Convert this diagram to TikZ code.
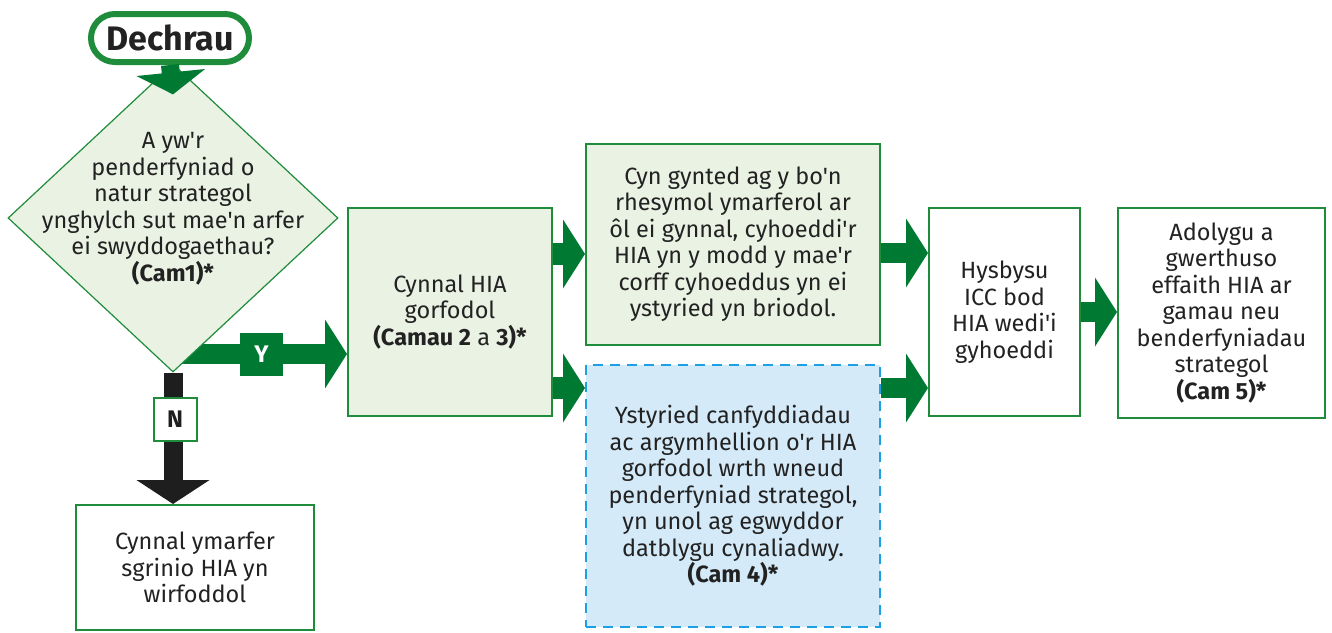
\documentclass[tikz,border=0pt]{standalone}
\usepackage{fontspec}
\setmainfont{Fira Sans}[Ligatures=TeXOff]
\usetikzlibrary{arrows.meta,shapes.geometric,calc}
\definecolor{gdark}{HTML}{007A33}
\definecolor{gline}{HTML}{1E8C3A}
\definecolor{gfill}{HTML}{EAF2E3}
\definecolor{bfill}{HTML}{D5EAF8}
\definecolor{bline}{HTML}{1BA0E2}
\definecolor{kdark}{HTML}{1E1E1E}
\definecolor{txt}{HTML}{222222}
\pgfdeclarelayer{bg}
\pgfsetlayers{bg,main}
\tikzset{
  base/.style={draw=gline, line width=2pt, text=txt, align=center, inner sep=0pt,
    font=\fontsize{23.5}{26.5}\selectfont},
  gbox/.style={base, fill=gfill},
  wbox/.style={base, fill=white},
  dbox/.style={base, fill=bfill, draw=bline, dash pattern=on 10pt off 7pt},
  garrow/.style={draw=gdark, line width=20pt, -{Triangle[length=22pt 0 0,width=68pt 0 0]}},
  karrow/.style={draw=kdark, line width=19pt, -{Triangle[length=24pt 0 0,width=72pt 0 0]}},
  lab/.style={inner sep=0pt, minimum width=43pt, minimum height=43pt, font=\fontsize{24}{24}\selectfont\bfseries},
}
\begin{document}
\begin{tikzpicture}[x=1pt,y=-1pt]
\useasboundingbox (0,0) rectangle (1332,632);
% nodes
\node[draw=gline, line width=6pt, fill=white, rounded corners=24pt, minimum width=158pt, minimum height=48pt,
  font=\fontsize{34}{34}\selectfont\bfseries, text=txt] (start) at (170,38) {Dechrau};
\node[diamond, draw=gline, line width=1.2pt, fill=gfill, minimum width=330pt, minimum height=308pt, inner sep=0pt] (dia) at (173,218) {};
\node[text=txt, align=center, font=\fontsize{23.5}{26.5}\selectfont] (diat) at (173,209)
  {A yw'r\\penderfyniad o\\natur strategol\\ynghylch sut mae'n arfer\\ei swyddogaethau?\\\textbf{(Cam1)*}};
\node[gbox, minimum width=204pt, minimum height=208pt] (b2) at (450,312)
  {Cynnal HIA\\gorfodol\\\textbf{(Camau 2} a \textbf{3)*}};
\node[gbox, minimum width=294pt, minimum height=201pt] (b4) at (733,244)
  {Cyn gynted ag y bo'n\\rhesymol ymarferol ar\\ôl ei gynnal, cyhoeddi'r\\HIA yn y modd y mae'r\\corff cyhoeddus yn ei\\ystyried yn briodol.};
\node[dbox, minimum width=294pt, minimum height=262pt] (b5) at (733,496)
  {Ystyried canfyddiadau\\ac argymhellion o'r HIA\\gorfodol wrth wneud\\penderfyniad strategol,\\yn unol ag egwyddor\\datblygu cynaliadwy.\\\textbf{(Cam 4)*}};
\node[wbox, minimum width=151pt, minimum height=208pt] (b6) at (1004.5,312)
  {Hysbysu\\ICC bod\\HIA wedi'i\\gyhoeddi};
\node[wbox, minimum width=207pt, minimum height=210pt] (b7) at (1221.5,313)
  {Adolygu a\\gwerthuso\\effaith HIA ar\\gamau neu\\benderfyniadau\\strategol\\\textbf{(Cam 5)*}};
\node[wbox, minimum width=238pt, minimum height=125pt] (b3) at (195,567.5)
  {Cynnal ymarfer\\sgrinio HIA yn\\wirfoddol};
% connectors behind
\begin{pgfonlayer}{bg}
\draw[garrow] (dia.south |- 0,354) -- (b2.west |- 0,354);
\draw[karrow] (dia.south) -- (dia.south |- b3.north);
\end{pgfonlayer}
\draw[garrow, line width=22pt] (b2.east |- 0,254) -- (b4.west |- 0,254);
\draw[garrow, line width=22pt] (b2.east |- 0,388) -- (b5.west |- 0,388);
\draw[garrow] (b4.east |- 0,253) -- (b6.west |- 0,253);
\draw[garrow] (b5.east |- 0,388) -- (b6.west |- 0,388);
\draw[garrow] (b6.east |- 0,312) -- (b7.west |- 0,312);
\draw[garrow, line width=18pt] (start.south) -- ($(dia.north)+(0,31)$);
% labels
\node[lab, fill=gdark, text=white] (ly) at (261.5,354.5) {Y};
\node[lab, fill=white, draw=gline, line width=2pt, text=kdark] (ln) at (175,419) {N};
\end{tikzpicture}
\end{document}
